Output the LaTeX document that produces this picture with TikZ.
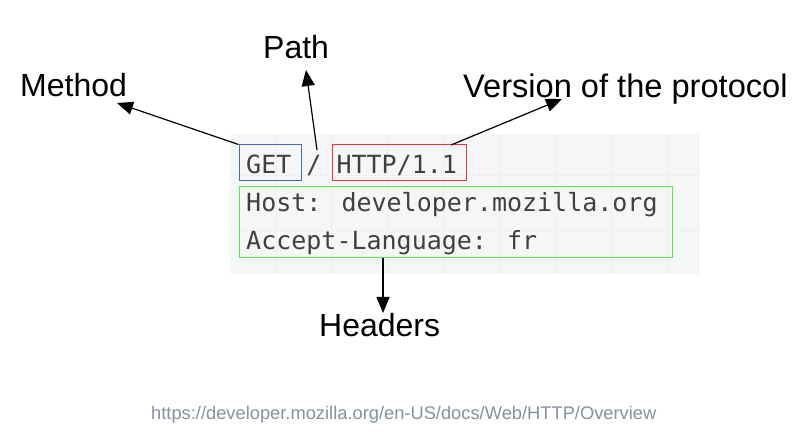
\documentclass[tikz,border=0pt]{standalone}
\usepackage{fontspec}
\setmainfont{Liberation Sans}
\newfontfamily\codefont{DejaVu Sans Mono}
\usetikzlibrary{arrows.meta}
\definecolor{bggray}{HTML}{F5F6F8}
\definecolor{gridgray}{HTML}{EDEFF1}
\definecolor{codegray}{HTML}{404040}
\definecolor{boxblue}{HTML}{4A6AA8}
\definecolor{boxred}{HTML}{E8323C}
\definecolor{boxgreen}{HTML}{55E855}
\definecolor{urlgray}{HTML}{87919B}
\tikzset{
  label/.style={font=\fontsize{32}{36}\selectfont, anchor=base west, inner sep=0pt, text=black},
  codeline/.style={font=\codefont\fontsize{25}{30}\selectfont, anchor=base west, inner sep=0pt, text=codegray},
  markbox/.style={draw, line width=1pt, inner sep=0pt, rectangle},
  pointer/.style={line width=1.2pt, -{Triangle[length=16pt,width=13pt]}},
}
\begin{document}
\begin{tikzpicture}[x=1pt,y=-1pt]
\useasboundingbox (0,0) rectangle (809,446);
% background panel with faint grid
\fill[bggray] (230,134) rectangle (700,274);
\begin{scope}
\clip (230,134) rectangle (700,274);
\foreach \gx in {276,331,387,443,499,555,611,667}
  \draw[gridgray, line width=0.7pt] (\gx,134) -- (\gx,274);
\foreach \gy in {175,230}
  \draw[gridgray, line width=0.7pt] (230,\gy) -- (700,\gy);
\end{scope}
% code lines
\node[codeline] (l1) at (246,174) {GET / HTTP/1.1};
\node[codeline] (l2) at (246,212) {Host: developer.mozilla.org};
\node[codeline] (l3) at (246,250) {Accept-Language: fr};
% boxes
\node[markbox, draw=boxblue, minimum width=62pt, minimum height=36pt] (getbox) at (270,163) {};
\node[markbox, draw=boxred, minimum width=134pt, minimum height=36pt] (verbox) at (399,163) {};
\node[markbox, draw=boxgreen, minimum width=433pt, minimum height=71pt] (hdrbox) at (455.5,222.5) {};
% labels
\node[label] (method) at (20,97) {Method};
\node[label] (path) at (263,59) {Path};
\node[label, font=\fontsize{32.6}{36}\selectfont] (version) at (463,98) {Version of the protocol};
\node[label] (headers) at (319,337) {Headers};
% connector ends
\coordinate (methodtip) at (117,103);
\coordinate (pathtail) at (317,150);
\coordinate (pathtip) at (306,70);
\coordinate (vertail) at (451,145);
\coordinate (vertip) at (562,99);
\coordinate (hdrtail) at (383,258);
\coordinate (hdrtip) at (383,313);
\draw[pointer] (getbox.north west) -- (methodtip);
\draw[pointer] (pathtail) -- (pathtip);
\draw[pointer] (vertail) -- (vertip);
\draw[pointer] (hdrtail) -- (hdrtip);
% url
\node[anchor=base west, inner sep=0pt, text=urlgray, font=\fontsize{18.3}{21}\selectfont] (url) at (151,419) {https://developer.mozilla.org/en-US/docs/Web/HTTP/Overview};
\end{tikzpicture}
\end{document}
